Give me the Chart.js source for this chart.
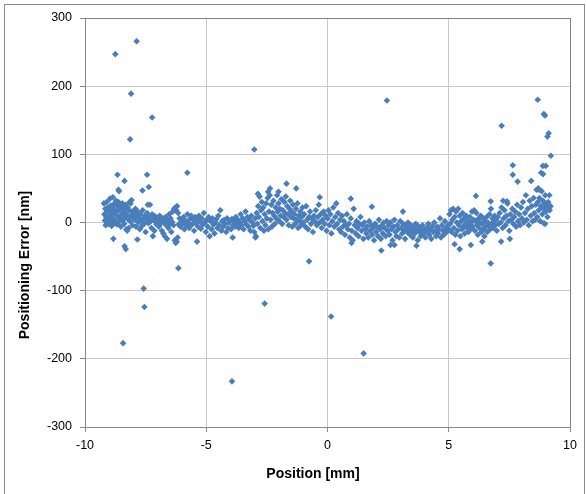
<!DOCTYPE html>
<html>
<head>
<meta charset="utf-8">
<script src="https://cdn.jsdelivr.net/npm/chart.js@4/dist/chart.umd.min.js"></script>
<style>
html,body{margin:0;padding:0;background:#fff;}
canvas{display:block;}
</style>
</head>
<body>
<canvas id="c" width="586" height="494"></canvas>
<script>
// Axis settings
const xTickValues = [-10, -5, 0, 5, 10];
const yTickValues = [-300, -200, -100, 0, 100, 200, 300];
const xTitle = "Position [mm]";
const yTitle = "Positioning Error [nm]";

// Measured points [position mm, error nm], grouped by region
const bandFarLeft = [[-9.22,28],[-9.2,12],[-9.18,3],[-9.16,20],[-9.15,-4],[-9.13,8],[-9.11,15],[-9.1,30],[-9.08,0],[-9.06,22],[-9.05,5],[-9.03,-2],[-9.0,18],[-8.98,10],[-8.97,35],[-8.95,2],[-8.93,25],[-8.9,-5],[-8.88,14],[-8.86,6],[-8.85,37],[-8.83,20],[-8.8,-1],[-8.78,28],[-8.76,12],[-8.74,3],[-8.72,32],[-8.7,16],[-8.68,-3],[-8.66,24],[-8.64,9],[-8.62,30],[-8.6,1],[-8.58,18],[-8.56,27],[-8.54,6],[-8.52,-6],[-8.5,22],[-8.48,12],[-8.46,28],[-8.44,3],[-8.42,25],[-8.4,15],[-8.38,-2],[-8.36,20],[-8.34,8],[-8.32,26],[-8.3,-10],[-8.28,12],[-8.26,-12],[-8.24,22],[-8.22,5],[-8.2,-8],[-8.18,18],[-8.16,30],[-8.14,2],[-8.12,28],[-8.1,10],[-8.08,33],[-8.06,16],[-8.04,-4],[-8.02,8]];
const bandLeft = [[-7.98,14],[-7.95,4],[-7.92,20],[-7.9,-6],[-7.86,10],[-7.83,16],[-7.8,0],[-7.77,7],[-7.74,-10],[-7.71,12],[-7.68,3],[-7.65,-5],[-7.62,18],[-7.59,6],[-7.56,-2],[-7.53,10],[-7.5,-14],[-7.47,4],[-7.44,14],[-7.41,26],[-7.38,-1],[-7.35,8],[-7.32,26],[-7.29,2],[-7.26,-8],[-7.23,12],[-7.2,-20],[-7.17,5],[-7.14,-12],[-7.11,9],[-7.08,0],[-7.05,-3],[-7.02,6],
 [-6.98,2],[-6.95,-6],[-6.92,10],[-6.89,-2],[-6.86,4],[-6.83,-12],[-6.8,6],[-6.77,-16],[-6.74,0],[-6.71,-20],[-6.68,8],[-6.65,-4],[-6.62,-24],[-6.59,3],[-6.56,-8],[-6.53,12],[-6.5,-2],[-6.47,6],[-6.44,-14],[-6.41,1],[-6.38,16],[-6.35,-4],[-6.32,20],[-6.3,-26],[-6.28,22],[-6.26,-30],[-6.24,18],[-6.22,-28],[-6.2,24],[-6.18,-22],[-6.16,14],[-6.14,-3],[-6.1,6],[-6.06,-6],[-6.02,2]];
const bandMidLeft = [[-5.98,-2],[-5.94,8],[-5.9,-10],[-5.86,3],[-5.82,-4],[-5.78,12],[-5.74,0],[-5.7,-8],[-5.66,6],[-5.62,10],[-5.58,-3],[-5.54,4],[-5.5,-12],[-5.46,8],[-5.42,-1],[-5.38,5],[-5.34,-6],[-5.3,10],[-5.26,2],[-5.22,-9],[-5.18,6],[-5.14,-3],[-5.1,14],[-5.06,0],[-5.02,-14],[-4.98,4],[-4.94,-6],[-4.9,8],[-4.86,-20],[-4.82,2],[-4.78,-10],[-4.74,6],[-4.7,-3],[-4.66,-16],[-4.62,0],[-4.58,5],[-4.54,-8],
 [-4.5,10],[-4.46,-4],[-4.42,18],[-4.38,-12],[-4.34,2],[-4.3,-6],[-4.26,4],[-4.22,-2],[-4.18,-14],[-4.14,6],[-4.1,-8],[-4.06,0],[-4.02,3],[-3.98,-10],[-3.94,5],[-3.9,-4],[-3.86,2],[-3.82,-6],[-3.78,8],[-3.74,-2],[-3.7,4],[-3.66,-8],[-3.62,0],[-3.58,12],[-3.54,-4],[-3.5,6],[-3.46,-10],[-3.42,2],[-3.38,16],[-3.34,-3],[-3.3,8],[-3.26,-6],[-3.22,4],[-3.18,-12],[-3.14,10],[-3.1,0],[-3.06,-5]];
const bandBump = [[-3.02,-14],[-2.98,6],[-2.95,-20],[-2.92,14],[-2.89,-2],[-2.86,24],[-2.83,8],[-2.8,38],[-2.77,-8],[-2.74,18],[-2.71,30],[-2.68,2],[-2.65,22],[-2.62,-12],[-2.59,12],[-2.56,-4],[-2.53,28],[-2.5,6],[-2.47,36],[-2.44,-10],[-2.41,16],[-2.38,40],[-2.35,4],[-2.32,26],[-2.29,-6],[-2.26,14],[-2.23,32],[-2.2,10],[-2.17,-2],[-2.14,22],[-2.11,6],[-2.08,40],[-2.05,16],[-2.02,28],[-1.99,2],[-1.96,20],[-1.93,10],[-1.9,34],[-1.87,-2],[-1.84,18],[-1.81,8],[-1.78,30],[-1.75,14],[-1.72,38],[-1.69,4],[-1.66,24],[-1.63,12],[-1.6,-4],[-1.57,20],[-1.54,32],[-1.51,8],[-1.48,16],[-1.45,-6],[-1.42,26],[-1.39,6],[-1.36,12],[-1.33,-2],[-1.3,20],[-1.27,4],[-1.24,28],[-1.21,-8],[-1.18,10],[-1.15,2],[-1.12,16],[-1.09,-4],[-1.06,8],[-1.03,22],
 [-1.0,0],[-0.96,12],[-0.92,-6],[-0.88,24],[-0.84,4],[-0.8,-10],[-0.76,8],[-0.72,16],[-0.68,-2],[-0.64,6],[-0.6,-14],[-0.56,10],[-0.52,2],[-0.48,18],[-0.44,-4],[-0.4,8],[-0.36,26],[-0.32,0],[-0.28,12],[-0.24,-8],[-0.2,4],[-0.16,16],[-0.12,-2],[-0.08,10],[-0.04,-12],[0.0,6],[0.04,18],[0.08,-4],[0.12,12],[0.16,-16],[0.2,2],[0.24,22],[0.28,-6],[0.32,8],[0.36,28],[0.4,-2],[0.44,14],[0.48,-10]];
const bandMidRight = [[0.52,4],[0.56,-14],[0.6,10],[0.64,-6],[0.68,2],[0.72,-18],[0.76,-4],[0.8,12],[0.84,-10],[0.88,-2],[0.92,-22],[0.96,6],[1.0,-12],[1.04,-26],[1.08,20],[1.12,-4],[1.16,-16],[1.2,2],[1.24,-8],[1.28,-20],[1.32,-2],[1.36,8],[1.4,-12],[1.44,-4],[1.48,-24],[1.52,0],[1.56,-10],[1.6,-16],[1.64,-6],[1.68,-22],[1.72,2],[1.76,-12],[1.8,-4],[1.84,-18],[1.88,-8],[1.92,-26],[1.96,-2],[2.0,-14],[2.04,-6],[2.08,-20],[2.12,4],[2.16,-10],[2.2,-24],[2.24,-4],[2.28,-16],[2.32,0],[2.36,-8],[2.4,-20],[2.44,2],[2.48,-12],
 [2.52,-4],[2.56,-18],[2.6,0],[2.64,-10],[2.68,-26],[2.72,-6],[2.76,4],[2.8,-14],[2.84,-20],[2.88,-4],[2.92,-10],[2.96,-22],[3.0,2],[3.04,-8],[3.08,-16],[3.12,-2],[3.16,-12],[3.2,-24],[3.24,-6],[3.28,-14],[3.32,0],[3.36,-10],[3.4,-18],[3.44,-4],[3.48,-12],[3.52,-22],[3.56,-8],[3.6,-16],[3.64,-2],[3.68,-12],[3.72,-26],[3.76,-6],[3.8,-14],[3.84,-20],[3.88,-10],[3.92,-4],[3.96,-16],[4.0,-12],[4.04,-22],[4.08,-8],[4.12,-14],[4.16,-2],[4.2,-18],[4.24,-10],[4.28,-24],[4.32,-6],[4.36,-14],[4.4,0],[4.44,-12],[4.48,-20],[4.52,-6],[4.56,-16],[4.6,-10],[4.64,6],[4.68,-22],[4.72,-4],[4.76,-12],[4.8,-18],[4.84,2],[4.88,-8],[4.92,-14],[4.96,-4]];
const bandRight = [[5.0,-10],[5.03,12],[5.06,-2],[5.09,18],[5.12,-14],[5.15,4],[5.18,20],[5.21,-8],[5.24,8],[5.27,-18],[5.3,16],[5.33,0],[5.36,-12],[5.39,20],[5.42,-4],[5.45,10],[5.48,-20],[5.51,2],[5.54,-10],[5.57,14],[5.6,-6],[5.63,6],[5.66,-16],[5.69,-2],[5.72,10],[5.75,-8],[5.78,2],[5.81,-14],[5.84,-4],[5.87,8],[5.9,-10],[5.93,0],[5.96,16],[5.99,-6],[6.02,4],[6.05,18],[6.08,-12],[6.11,2],[6.14,14],[6.17,-4],[6.2,-18],[6.23,6],[6.26,-8],[6.29,0],[6.32,10],[6.35,-14],[6.38,-2],[6.41,6],[6.44,-10],[6.47,-20],[6.5,2],[6.53,-6],[6.56,8],[6.59,-14],[6.62,0],[6.65,-4],[6.68,12],[6.71,-10],[6.74,20],[6.77,-2],[6.8,6],[6.83,-8],[6.86,2],[6.89,10],[6.92,-4],[6.95,4],[6.98,-12]];
const bandFarRight = [[7.02,8],[7.06,-2],[7.1,14],[7.14,0],[7.18,22],[7.22,-8],[7.26,6],[7.3,18],[7.34,-4],[7.38,10],[7.42,28],[7.46,2],[7.5,-12],[7.54,12],[7.58,4],[7.62,20],[7.66,-2],[7.7,8],[7.74,16],[7.78,-6],[7.82,26],[7.86,2],[7.9,12],[7.94,-4],[7.98,22],[8.02,6],[8.06,30],[8.1,0],[8.14,14],[8.18,40],[8.22,4],[8.26,20],[8.3,-4],[8.34,32],[8.38,10],[8.42,24],[8.46,2],[8.5,36],
 [8.53,14],[8.56,4],[8.59,26],[8.62,48],[8.65,8],[8.68,30],[8.71,18],[8.74,36],[8.77,2],[8.8,24],[8.83,46],[8.86,12],[8.89,32],[8.92,20],[8.95,28],[8.98,40],[9.01,16],[9.04,24],[9.07,8],[9.1,30],[9.13,22],[9.16,18],[9.2,24]];
const outliers = [[-8.75,247],[-7.87,266],[-8.10,189],[-8.14,122],[-7.23,154],[-3.02,107],[2.45,179],[7.18,142],[8.67,180],[8.92,159],[8.97,157],[9.07,126],[9.12,131],[9.21,98],[8.88,83],[9.0,83],[8.81,73],[8.89,71],[7.64,84],[7.64,70],[7.84,60],[9.15,40],[8.69,50],[8.72,48],[8.40,61],[-5.78,73],[-8.66,70],[-7.44,70],[-8.37,61],[-7.37,52],[-8.62,48],[-8.60,46],[-7.63,47],[-1.69,57],[-1.29,50],[-2.37,50],[-2.45,45],[-2.87,42],[-2.02,45],[-0.32,37],[0.96,35],[1.83,23],[3.11,16],[6.12,39],[6.73,31],[7.24,32],[7.40,31],
 [-8.83,-24],[-8.37,-35],[-8.32,-39],[-7.58,-97],[-7.55,-124],[-8.43,-177],[-6.15,-67],[-3.94,-233],[-2.59,-119],[-0.76,-57],[0.15,-138],[1.49,-192],[6.73,-60],[2.22,-41],[5.45,-39],[3.67,-34],[7.16,-28],[7.52,-24],[-5.38,-28],[-7.84,-25],[-3.91,-22],[-2.97,-22],[0.99,-30],[2.60,-33],[2.76,-33],[6.38,-28],[8.92,-1],[8.97,-2],[5.24,-32],[5.91,-33]];

const allPoints = [].concat(bandFarLeft, bandLeft, bandMidLeft, bandBump, bandMidRight, bandRight, bandFarRight, outliers)
  .map(p => ({x: p[0], y: p[1]}));

const FONT = "'Liberation Sans', Arial, sans-serif";
const AXIS_COLOR = '#898989';
const GRID_COLOR = '#c9c9c9';

const framePlugin = {
  id: 'frame',
  beforeDraw(chart) {
    const ctx = chart.ctx;
    ctx.save();
    ctx.fillStyle = '#ffffff';
    ctx.fillRect(0, 0, chart.width, chart.height);
    ctx.strokeStyle = '#8c8c8c';
    ctx.lineWidth = 1;
    ctx.strokeRect(4.5, 4.5, 580, 500);
    ctx.restore();
  },
  afterDraw(chart) {
    const ctx = chart.ctx;
    const a = chart.chartArea;
    ctx.save();
    ctx.strokeStyle = '#7f7f7f';
    ctx.lineWidth = 1;
    ctx.beginPath();
    ctx.moveTo(Math.round(a.left) + 0.5, Math.round(a.top) + 0.5);
    ctx.lineTo(Math.round(a.right) + 0.5, Math.round(a.top) + 0.5);
    ctx.lineTo(Math.round(a.right) + 0.5, Math.round(a.bottom) + 0.5);
    ctx.stroke();
    ctx.fillStyle = '#000';
    ctx.font = "bold 14px " + FONT;
    ctx.textAlign = 'center';
    ctx.textBaseline = 'middle';
    ctx.fillText(xTitle, 313, 474);
    ctx.translate(25, 265);
    ctx.rotate(-Math.PI / 2);
    ctx.fillText(yTitle, 0, 0);
    ctx.restore();
  }
};

new Chart(document.getElementById('c'), {
  type: 'scatter',
  data: {
    datasets: [{
      data: allPoints,
      pointStyle: 'rectRot',
      pointRadius: 3.3,
      pointBackgroundColor: '#4a7ebb',
      pointBorderColor: '#4a7ebb',
      pointBorderWidth: 0,
      pointHoverRadius: 3.3
    }]
  },
  options: {
    responsive: false,
    animation: false,
    devicePixelRatio: 1,
    layout: { padding: { left: 0, top: 18, right: 16, bottom: 0 } },
    plugins: { legend: { display: false }, tooltip: { enabled: false } },
    scales: {
      x: {
        type: 'linear',
        min: -10, max: 10,
        afterBuildTicks: s => { s.ticks = xTickValues.map(v => ({value: v})); },
        afterFit: s => { s.height = 67; },
        ticks: { color: '#000', font: { family: FONT, size: 12.5 }, padding: 6, maxRotation: 0 },
        grid: { color: GRID_COLOR, tickColor: AXIS_COLOR, tickLength: 5, drawTicks: true },
        border: { color: AXIS_COLOR }
      },
      y: {
        type: 'linear',
        min: -300, max: 300,
        afterBuildTicks: s => { s.ticks = yTickValues.map(v => ({value: v})); },
        afterFit: s => { s.width = 85; },
        ticks: { color: '#000', font: { family: FONT, size: 12.5 }, padding: 8 },
        grid: { color: GRID_COLOR, tickColor: AXIS_COLOR, tickLength: 5, drawTicks: true },
        border: { color: AXIS_COLOR }
      }
    }
  },
  plugins: [framePlugin]
});
</script>
</body>
</html>
